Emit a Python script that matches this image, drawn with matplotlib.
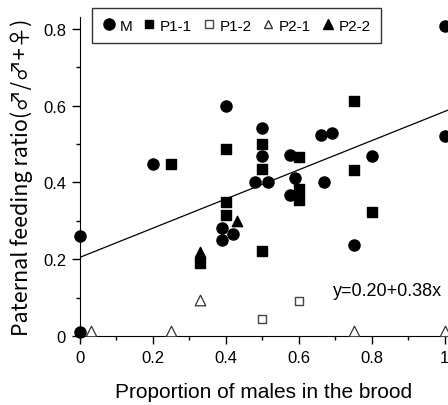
import matplotlib
matplotlib.use("Agg")
import matplotlib.pyplot as plt
import numpy as np
from matplotlib.lines import Line2D

plt.rcParams['font.family'] = ['Liberation Sans', 'DejaVu Sans']

# Data (proportion of males, paternal feeding ratio)
m_x = [0.0, 0.0, 0.2, 0.39, 0.39, 0.40, 0.42, 0.48, 0.5, 0.5, 0.515, 0.575, 0.59, 0.575,
       0.66, 0.69, 0.67, 0.75, 0.8, 1.0, 1.0]
m_y = [0.26, 0.01, 0.447, 0.281, 0.251, 0.60, 0.266, 0.402, 0.541, 0.468, 0.40, 0.472, 0.411,
       0.367, 0.524, 0.528, 0.40, 0.237, 0.469, 0.522, 0.807]
p11_x = [0.25, 0.33, 0.4, 0.4, 0.4, 0.5, 0.5, 0.5, 0.6, 0.6, 0.6, 0.75, 0.75, 0.8]
p11_y = [0.448, 0.19, 0.487, 0.348, 0.315, 0.50, 0.435, 0.222, 0.467, 0.382, 0.355, 0.612, 0.433, 0.322]
p12_x = [0.5, 0.6]
p12_y = [0.043, 0.092]
p21_x = [0.03, 0.25, 0.33, 0.75, 1.0]
p21_y = [0.013, 0.014, 0.094, 0.014, 0.014]
p22_x = [0.33, 0.43]
p22_y = [0.22, 0.30]

intercept, slope = 0.205, 0.38
eq_text = "y=0.20+0.38x"

fig = plt.figure(figsize=(4.48, 4.06), dpi=100)
ax = fig.add_axes([80/448, (406-337)/406, (448-80)/448, (337-18)/406])
ax.set_xlim(0, 1.009)
ax.set_ylim(0, 0.831)

ax.spines['top'].set_visible(False)
ax.spines['right'].set_visible(False)

xs = np.array([0, 1.009])
ax.plot(xs, intercept + slope*xs, color='black', lw=0.9, zorder=1)

ax.scatter(m_x, m_y, marker='o', s=64, c='black', zorder=3, clip_on=False)
ax.scatter(p11_x, p11_y, marker='s', s=42, c='black', zorder=3)
ax.scatter(p12_x, p12_y, marker='s', s=40, facecolors='white', edgecolors='#444444', linewidths=1.0, zorder=3)
ax.scatter(p21_x, p21_y, marker='^', s=58, facecolors='white', edgecolors='#333333', linewidths=0.9, zorder=3)
ax.scatter(p22_x, p22_y, marker='^', s=55, c='black', zorder=3)

ax.text(0.693, 0.118, eq_text, fontsize=13, ha='left', va='center')

ax.set_xticks([0, 0.2, 0.4, 0.6, 0.8, 1.0])
ax.set_xticklabels(['0', '0.2', '0.4', '0.6', '0.8', '1'])
ax.set_xticks(np.arange(0.1, 1.0, 0.2), minor=True)
ax.set_yticks([0, 0.2, 0.4, 0.6, 0.8])
ax.set_yticklabels(['0', '0.2', '0.4', '0.6', '0.8'])
ax.set_yticks(np.arange(0.1, 0.8, 0.2), minor=True)
ax.tick_params(which='major', direction='out', length=6, width=1, labelsize=12, pad=4)
ax.tick_params(which='minor', direction='out', length=3, width=1)

ax.set_xlabel('Proportion of males in the brood', fontsize=15, labelpad=12)
ax.set_ylabel('Paternal feeding ratio(\u2642/\u2642+\u2640)', fontsize=15.5, labelpad=7,
              family=['Noto Sans CJK JP', 'DejaVu Sans'])

handles = [
    Line2D([], [], marker='o', ls='', color='black', markersize=8),
    Line2D([], [], marker='s', ls='', color='black', markersize=6),
    Line2D([], [], marker='s', ls='', markerfacecolor='white', markeredgecolor='#444444', markersize=6),
    Line2D([], [], marker='^', ls='', markerfacecolor='white', markeredgecolor='#333333', markersize=6),
    Line2D([], [], marker='^', ls='', color='black', markersize=7),
]
labels = ['M', 'P1-1', 'P1-2', 'P2-1', 'P2-2']
leg = fig.legend(handles, labels, loc='upper left', bbox_to_anchor=(92/448, 1-9/406), ncol=5,
                 fontsize=11, frameon=True, fancybox=False, edgecolor='black',
                 handlelength=0.8, handletextpad=0.3, columnspacing=0.7, borderpad=0.7,
                 borderaxespad=0)
leg.get_frame().set_linewidth(1.0)

fig.savefig('out.png', dpi=100)
